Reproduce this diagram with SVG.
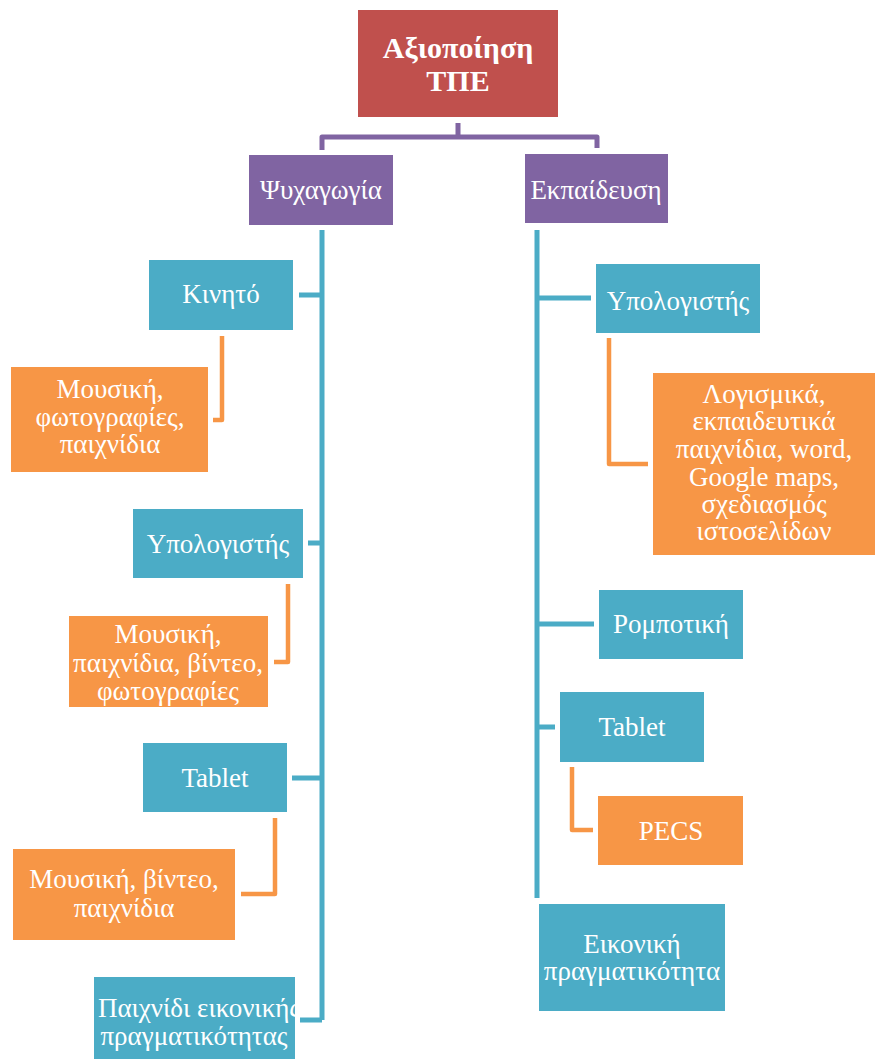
<svg xmlns="http://www.w3.org/2000/svg" width="875" height="1059" viewBox="0 0 875 1059">
  <style>
    .root { fill: #C0504D; }
    .cat { fill: #8064A2; }
    .dev { fill: #4BACC6; }
    .use { fill: #F79646; }
    text { font-family: "Liberation Serif", "Times New Roman", "DejaVu Serif", serif; fill: #FFFFFF; text-anchor: middle; font-size: 27px; }
    .title { font-weight: bold; font-size: 30px; }
    .lp { fill: none; stroke: #8064A2; stroke-width: 5; stroke-linejoin: round; }
    .lb { fill: none; stroke: #4BACC6; stroke-width: 5; }
    .lo { fill: none; stroke: #F79646; stroke-width: 4.5; stroke-linejoin: round; }
  </style>
  <defs>
    <clipPath id="clip-vr">
      <rect x="94" y="977" width="201" height="82"/>
    </clipPath>
  </defs>
  <rect width="875" height="1059" fill="#FFFFFF"/>

  <!-- connectors -->
  <g id="connectors">
    <path class="lp" d="M458 123 V137 M322 150 V137 H597 V148"/>
    <path class="lb" d="M322 230 V1020 M299 295 H322 M308 543 H322 M292 778 H322 M300 1020 H322"/>
    <path class="lb" d="M537 230 V898 M537 298 H591 M537 624 H594 M537 727 H555"/>
    <path class="lo" d="M222 336 V420 H213"/>
    <path class="lo" d="M288 584 V662 H274"/>
    <path class="lo" d="M275 818 V894 H241"/>
    <path class="lo" d="M609 338 V464 H648"/>
    <path class="lo" d="M572 767 V830 H593"/>
  </g>

  <!-- root -->
  <g id="node-root">
    <rect class="root" x="358" y="10" width="200" height="107"/>
    <text class="title" x="458" y="58">Αξιοποίηση</text>
    <text class="title" x="458" y="91">ΤΠΕ</text>
  </g>

  <!-- categories -->
  <g id="node-entertainment">
    <rect class="cat" x="249" y="155" width="144" height="70"/>
    <text x="321" y="199">Ψυχαγωγία</text>
  </g>
  <g id="node-education">
    <rect class="cat" x="525" y="154" width="143" height="69"/>
    <text x="596" y="199">Εκπαίδευση</text>
  </g>

  <!-- entertainment branch -->
  <g id="node-mobile">
    <rect class="dev" x="149" y="260" width="144" height="70"/>
    <text x="221" y="303">Κινητό</text>
  </g>
  <g id="node-mobile-uses">
    <rect class="use" x="11" y="367" width="197" height="105"/>
    <text x="110" y="398">Μουσική,</text>
    <text x="110" y="426">φωτογραφίες,</text>
    <text x="110" y="453">παιχνίδια</text>
  </g>
  <g id="node-pc-left">
    <rect class="dev" x="133" y="509" width="170" height="69"/>
    <text x="218" y="553">Υπολογιστής</text>
  </g>
  <g id="node-pc-left-uses">
    <rect class="use" x="69" y="616" width="199" height="91"/>
    <text x="168" y="643">Μουσική,</text>
    <text x="168" y="672">παιχνίδια, βίντεο,</text>
    <text x="168" y="700">φωτογραφίες</text>
  </g>
  <g id="node-tablet-left">
    <rect class="dev" x="143" y="743" width="144" height="69"/>
    <text x="215" y="787">Tablet</text>
  </g>
  <g id="node-tablet-left-uses">
    <rect class="use" x="13" y="849" width="222" height="91"/>
    <text x="124" y="888">Μουσική, βίντεο,</text>
    <text x="124" y="917">παιχνίδια</text>
  </g>
  <g id="node-vr-game">
    <rect class="dev" x="94" y="977" width="201" height="82"/>
    <g clip-path="url(#clip-vr)">
      <text x="199" y="1017">Παιχνίδι εικονικής</text>
      <text x="194" y="1045">πραγματικότητας</text>
    </g>
  </g>

  <!-- education branch -->
  <g id="node-pc-right">
    <rect class="dev" x="596" y="264" width="164" height="69"/>
    <text x="678" y="310">Υπολογιστής</text>
  </g>
  <g id="node-pc-right-uses">
    <rect class="use" x="653" y="373" width="222" height="182"/>
    <text x="764" y="403">Λογισμικά,</text>
    <text x="764" y="430">εκπαιδευτικά</text>
    <text x="764" y="458">παιχνίδια, word,</text>
    <text x="764" y="486">Google maps,</text>
    <text x="764" y="513">σχεδιασμός</text>
    <text x="764" y="540">ιστοσελίδων</text>
  </g>
  <g id="node-robotics">
    <rect class="dev" x="599" y="590" width="144" height="69"/>
    <text x="671" y="633">Ρομποτική</text>
  </g>
  <g id="node-tablet-right">
    <rect class="dev" x="560" y="692" width="144" height="70"/>
    <text x="632" y="736">Tablet</text>
  </g>
  <g id="node-pecs">
    <rect class="use" x="598" y="796" width="145" height="69"/>
    <text x="671" y="840">PECS</text>
  </g>
  <g id="node-vr">
    <rect class="dev" x="539" y="904" width="186" height="107"/>
    <text x="632" y="953">Εικονική</text>
    <text x="632" y="980">πραγματικότητα</text>
  </g>
</svg>
